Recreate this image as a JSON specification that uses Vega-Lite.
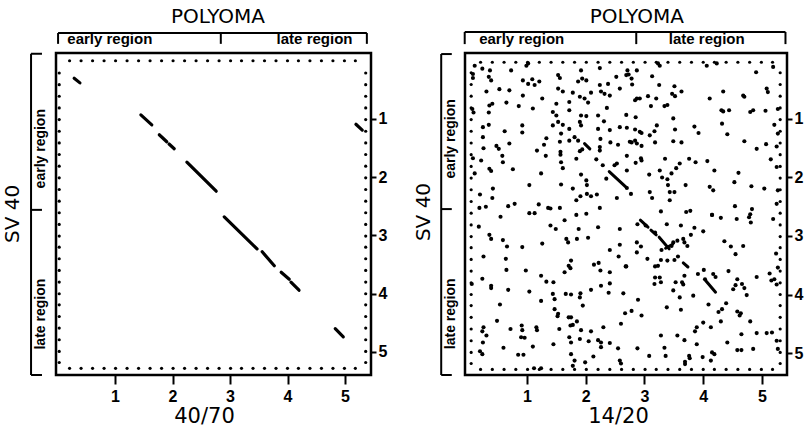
{
  "$schema": "https://vega.github.io/schema/vega-lite/v6.json",
  "padding": {"left": 1, "top": 5, "right": 0, "bottom": 0},
  "background": "white",
  "bounds": "flush",
  "spacing": 94,
  "config": {
    "view": {"stroke": "black", "strokeWidth": 2.5},
    "axis": {"domain": false, "grid": false, "labelFont": "Liberation Sans", "labelFontSize": 16, "labelFontWeight": "bold", "labelColor": "black", "tickColor": "black", "tickWidth": 2, "titleFont": "DejaVu Sans", "titleFontSize": 21, "titleFontWeight": "normal", "titleColor": "black"},
    "text": {"font": "DejaVu Sans", "color": "black"}
  },
  "datasets": {
    "grid": [{"v":0.21},{"v":0.41},{"v":0.61},{"v":0.81},{"v":1.01},{"v":1.21},{"v":1.41},{"v":1.61},{"v":1.81},{"v":2.01},{"v":2.21},{"v":2.41},{"v":2.61},{"v":2.81},{"v":3.01},{"v":3.2},{"v":3.4},{"v":3.6},{"v":3.8},{"v":4.0},{"v":4.19},{"v":4.39},{"v":4.59},{"v":4.79},{"v":4.99},{"v":5.18}],
    "notes": [
      {"panel":"L","kind":"head","text":"POLYOMA","x":2.79,"y":-0.75},
      {"panel":"L","kind":"axis","text":"SV 40","x":-0.77,"y":2.63},
      {"panel":"L","kind":"region","text":"early region","x":0.91,"y":-0.37},
      {"panel":"L","kind":"region","text":"late region","x":4.47,"y":-0.37},
      {"panel":"L","kind":"side","text":"early region","x":-0.28,"y":1.51},
      {"panel":"L","kind":"side","text":"late region","x":-0.28,"y":4.35},
      {"panel":"R","kind":"head","text":"POLYOMA","x":2.87,"y":-0.74},
      {"panel":"R","kind":"axis","text":"SV 40","x":-0.75,"y":2.59},
      {"panel":"R","kind":"region","text":"early region","x":0.91,"y":-0.37},
      {"panel":"R","kind":"region","text":"late region","x":4.06,"y":-0.37},
      {"panel":"R","kind":"side","text":"early region","x":-0.29,"y":1.34},
      {"panel":"R","kind":"side","text":"late region","x":-0.29,"y":4.33}
    ],
    "brackets": [
      {"panel":"L","x":0.01,"y":-0.476,"x2":5.38,"y2":-0.476},
      {"panel":"L","x":0.01,"y":-0.476,"x2":0.01,"y2":-0.29},
      {"panel":"L","x":2.84,"y":-0.476,"x2":2.84,"y2":-0.29},
      {"panel":"L","x":5.38,"y":-0.476,"x2":5.38,"y2":-0.29},
      {"panel":"L","x":-0.46,"y":-0.12,"x2":-0.46,"y2":5.395},
      {"panel":"L","x":-0.46,"y":-0.12,"x2":-0.27,"y2":-0.12},
      {"panel":"L","x":-0.46,"y":2.56,"x2":-0.27,"y2":2.56},
      {"panel":"L","x":-0.46,"y":5.395,"x2":-0.27,"y2":5.395},
      {"panel":"R","x":-0.06,"y":-0.487,"x2":5.4,"y2":-0.487},
      {"panel":"R","x":-0.06,"y":-0.487,"x2":-0.06,"y2":-0.28},
      {"panel":"R","x":2.86,"y":-0.487,"x2":2.86,"y2":-0.28},
      {"panel":"R","x":5.4,"y":-0.487,"x2":5.4,"y2":-0.28},
      {"panel":"R","x":-0.46,"y":-0.11,"x2":-0.46,"y2":5.376},
      {"panel":"R","x":-0.46,"y":-0.11,"x2":-0.28,"y2":-0.11},
      {"panel":"R","x":-0.46,"y":2.54,"x2":-0.28,"y2":2.54},
      {"panel":"R","x":-0.46,"y":5.376,"x2":-0.28,"y2":5.376}
    ],
    "segL": [
      {"x":0.29,"y":0.3,"x2":0.39,"y2":0.38},
      {"x":1.45,"y":0.93,"x2":1.64,"y2":1.1},
      {"x":1.77,"y":1.27,"x2":1.9,"y2":1.39},
      {"x":1.94,"y":1.43,"x2":2.03,"y2":1.51},
      {"x":2.25,"y":1.74,"x2":2.76,"y2":2.24},
      {"x":2.9,"y":2.68,"x2":3.47,"y2":3.23},
      {"x":3.56,"y":3.28,"x2":3.77,"y2":3.52},
      {"x":3.89,"y":3.63,"x2":4.03,"y2":3.75},
      {"x":4.06,"y":3.8,"x2":4.2,"y2":3.94},
      {"x":5.19,"y":1.09,"x2":5.3,"y2":1.19},
      {"x":4.83,"y":4.6,"x2":4.97,"y2":4.74}
    ],
    "segR": [
      {"x":1.98,"y":1.42,"x2":2.07,"y2":1.51},
      {"x":2.4,"y":1.9,"x2":2.69,"y2":2.17},
      {"x":2.93,"y":2.73,"x2":3.06,"y2":2.85},
      {"x":3.11,"y":2.9,"x2":3.2,"y2":2.98},
      {"x":3.25,"y":3.02,"x2":3.42,"y2":3.22},
      {"x":3.36,"y":3.21,"x2":3.48,"y2":3.14},
      {"x":3.66,"y":3.46,"x2":3.74,"y2":3.53},
      {"x":4.04,"y":3.76,"x2":4.21,"y2":3.96}
    ],
    "dotsR": [
      {"x":0.11,"y":0.09},{"x":0.24,"y":0.14},{"x":0.37,"y":0.17},{"x":0.08,"y":0.23},{"x":0.08,"y":0.3},{"x":0.35,"y":0.28},{"x":0.39,"y":0.34},{"x":0.73,"y":0.17},{"x":0.99,"y":0.09},{"x":1.02,"y":0.05},{"x":1.53,"y":0.25},{"x":1.56,"y":0.3},{"x":1.92,"y":0.17},{"x":1.94,"y":0.31},{"x":2.24,"y":0.13},{"x":2.52,"y":0.28},{"x":2.69,"y":0.25},{"x":0.93,"y":0.34},{"x":1.02,"y":0.4},{"x":1.09,"y":0.32},{"x":1.13,"y":0.42},{"x":1.21,"y":0.36},{"x":1.87,"y":0.36},{"x":2.01,"y":0.34},{"x":2.24,"y":0.42},{"x":2.38,"y":0.4},{"x":2.58,"y":0.48},{"x":0.31,"y":0.53},{"x":0.53,"y":0.49},{"x":0.7,"y":0.51},{"x":0.93,"y":0.6},{"x":1.26,"y":0.65},{"x":1.53,"y":0.48},{"x":1.61,"y":0.53},{"x":1.78,"y":0.55},{"x":1.9,"y":0.62},{"x":1.98,"y":0.65},{"x":2.04,"y":0.72},{"x":2.09,"y":0.55},{"x":2.26,"y":0.53},{"x":2.32,"y":0.57},{"x":2.41,"y":0.6},{"x":2.36,"y":0.81},{"x":0.07,"y":0.83},{"x":0.09,"y":0.89},{"x":0.41,"y":0.74},{"x":0.36,"y":0.77},{"x":0.35,"y":0.89},{"x":0.65,"y":0.72},{"x":0.86,"y":0.78},{"x":1.1,"y":0.82},{"x":1.5,"y":0.74},{"x":1.72,"y":0.71},{"x":1.72,"y":0.85},{"x":1.44,"y":0.88},{"x":1.5,"y":0.94},{"x":1.92,"y":0.94},{"x":2.01,"y":0.95},{"x":2.21,"y":0.94},{"x":2.69,"y":0.93},{"x":0.25,"y":1.14},{"x":0.35,"y":1.1},{"x":0.62,"y":1.21},{"x":0.92,"y":1.11},{"x":0.92,"y":1.23},{"x":1.44,"y":1.11},{"x":1.53,"y":1.05},{"x":1.61,"y":1.1},{"x":1.72,"y":1.17},{"x":1.9,"y":1.05},{"x":1.92,"y":1.11},{"x":2.21,"y":1.17},{"x":2.31,"y":1.04},{"x":2.41,"y":1.19},{"x":2.58,"y":1.14},{"x":0.25,"y":1.31},{"x":0.26,"y":1.5},{"x":0.48,"y":1.46},{"x":0.52,"y":1.51},{"x":0.7,"y":1.42},{"x":1.17,"y":1.54},{"x":1.29,"y":1.44},{"x":1.33,"y":1.33},{"x":1.56,"y":1.39},{"x":1.58,"y":1.25},{"x":1.72,"y":1.37},{"x":1.81,"y":1.31},{"x":1.87,"y":1.37},{"x":1.9,"y":1.55},{"x":1.94,"y":1.52},{"x":2.24,"y":1.48},{"x":2.24,"y":1.54},{"x":2.25,"y":1.34},{"x":2.42,"y":1.4},{"x":2.55,"y":1.44},{"x":0.08,"y":1.67},{"x":0.22,"y":1.71},{"x":0.58,"y":1.63},{"x":0.59,"y":1.74},{"x":0.76,"y":1.86},{"x":1.32,"y":1.63},{"x":1.57,"y":1.56},{"x":1.57,"y":1.61},{"x":1.58,"y":1.74},{"x":1.61,"y":1.84},{"x":1.84,"y":1.68},{"x":2.18,"y":1.69},{"x":2.29,"y":1.79},{"x":2.49,"y":1.79},{"x":2.53,"y":1.76},{"x":0.36,"y":1.85},{"x":0.39,"y":1.89},{"x":0.11,"y":1.93},{"x":1.04,"y":2.13},{"x":1.24,"y":1.93},{"x":1.58,"y":2.12},{"x":1.78,"y":2.19},{"x":1.92,"y":1.95},{"x":2.01,"y":2.05},{"x":2.02,"y":2.13},{"x":2.02,"y":2.28},{"x":2.09,"y":2.32},{"x":2.19,"y":2.29},{"x":2.35,"y":2.02},{"x":2.53,"y":2.35},{"x":0.2,"y":2.29},{"x":0.42,"y":2.19},{"x":0.41,"y":2.35},{"x":0.68,"y":2.49},{"x":0.79,"y":2.45},{"x":1.2,"y":2.46},{"x":1.36,"y":2.52},{"x":1.4,"y":2.53},{"x":1.56,"y":2.52},{"x":1.84,"y":2.39},{"x":1.91,"y":2.32},{"x":2.24,"y":2.52},{"x":0.19,"y":2.52},{"x":0.3,"y":2.5},{"x":1.04,"y":2.61},{"x":1.13,"y":2.61},{"x":1.84,"y":2.64},{"x":2.01,"y":2.62},
      {"x":2.71,"y":0.17},{"x":2.73,"y":0.24},{"x":2.87,"y":0.17},{"x":2.78,"y":0.31},{"x":2.79,"y":0.41},{"x":3.13,"y":0.27},{"x":3.23,"y":0.05},{"x":3.26,"y":0.09},{"x":4.06,"y":0.09},{"x":4.23,"y":0.05},{"x":4.9,"y":0.2},{"x":5.19,"y":0.11},{"x":2.87,"y":0.65},{"x":2.92,"y":0.65},{"x":2.84,"y":0.68},{"x":3.06,"y":0.61},{"x":3.2,"y":0.65},{"x":3.11,"y":0.78},{"x":3.25,"y":0.42},{"x":3.51,"y":0.44},{"x":3.47,"y":0.57},{"x":3.52,"y":0.61},{"x":3.63,"y":0.53},{"x":3.34,"y":0.78},{"x":3.39,"y":0.76},{"x":4.11,"y":0.65},{"x":4.34,"y":0.53},{"x":4.68,"y":0.6},{"x":4.7,"y":0.62},{"x":5.08,"y":0.48},{"x":5.1,"y":0.54},{"x":2.85,"y":0.97},{"x":3.49,"y":0.99},{"x":4.31,"y":0.85},{"x":4.34,"y":0.87},{"x":4.44,"y":0.85},{"x":4.8,"y":0.88},{"x":4.85,"y":0.85},{"x":5.06,"y":0.86},{"x":5.27,"y":0.83},{"x":2.7,"y":1.15},{"x":2.84,"y":1.18},{"x":2.92,"y":1.22},{"x":2.95,"y":1.24},{"x":3.09,"y":1.28},{"x":3.17,"y":1.21},{"x":3.21,"y":1.11},{"x":3.52,"y":1.18},{"x":3.85,"y":1.13},{"x":3.92,"y":1.24},{"x":4.32,"y":1.08},{"x":4.41,"y":1.26},{"x":5.21,"y":1.1},{"x":5.27,"y":1.25},{"x":2.75,"y":1.39},{"x":2.78,"y":1.4},{"x":2.84,"y":1.37},{"x":2.87,"y":1.42},{"x":2.95,"y":1.46},{"x":3.18,"y":1.4},{"x":3.49,"y":1.38},{"x":3.63,"y":1.4},{"x":4.7,"y":1.38},{"x":4.91,"y":1.51},{"x":5.07,"y":1.43},{"x":5.25,"y":1.47},{"x":2.7,"y":1.63},{"x":2.85,"y":1.75},{"x":2.94,"y":1.67},{"x":2.95,"y":1.71},{"x":3.35,"y":1.68},{"x":3.76,"y":1.68},{"x":3.87,"y":1.74},{"x":4.07,"y":1.72},{"x":4.19,"y":1.88},{"x":5.15,"y":1.69},{"x":2.7,"y":1.88},{"x":3.08,"y":1.95},{"x":3.26,"y":1.88},{"x":3.3,"y":2.0},{"x":3.39,"y":2.03},{"x":3.46,"y":1.93},{"x":3.54,"y":1.84},{"x":3.6,"y":1.76},{"x":4.6,"y":1.92},{"x":4.53,"y":2.08},{"x":5.25,"y":1.82},{"x":2.7,"y":2.18},{"x":2.77,"y":2.28},{"x":3.4,"y":2.13},{"x":3.43,"y":2.25},{"x":3.51,"y":2.25},{"x":3.7,"y":2.13},{"x":4.11,"y":2.16},{"x":4.17,"y":2.22},{"x":4.82,"y":2.15},{"x":5.04,"y":2.19},{"x":5.27,"y":2.22},{"x":3.09,"y":2.25},{"x":3.13,"y":2.35},{"x":3.43,"y":2.39},{"x":3.28,"y":2.58},{"x":3.71,"y":2.59},{"x":3.78,"y":2.57},{"x":4.15,"y":2.64},{"x":4.54,"y":2.49},{"x":4.83,"y":2.54},{"x":4.8,"y":2.63},{"x":5.25,"y":2.45},
      {"x":0.18,"y":2.84},{"x":0.55,"y":2.67},{"x":0.36,"y":2.98},{"x":0.39,"y":3.05},{"x":0.59,"y":3.07},{"x":0.66,"y":3.18},{"x":0.92,"y":3.19},{"x":1.26,"y":3.13},{"x":1.4,"y":2.82},{"x":1.49,"y":2.88},{"x":1.64,"y":2.73},{"x":1.67,"y":3.05},{"x":1.7,"y":3.11},{"x":1.85,"y":3.05},{"x":1.88,"y":2.88},{"x":2.04,"y":3.03},{"x":2.21,"y":2.85},{"x":2.58,"y":2.88},{"x":0.26,"y":3.35},{"x":0.64,"y":3.39},{"x":0.65,"y":3.58},{"x":0.98,"y":3.59},{"x":1.24,"y":3.68},{"x":1.33,"y":3.78},{"x":1.45,"y":3.79},{"x":1.64,"y":3.62},{"x":1.71,"y":3.51},{"x":1.74,"y":3.55},{"x":1.75,"y":3.42},{"x":2.14,"y":3.49},{"x":2.22,"y":3.46},{"x":2.25,"y":3.59},{"x":2.41,"y":3.24},{"x":2.41,"y":3.62},{"x":2.56,"y":3.35},{"x":2.58,"y":3.15},{"x":2.68,"y":3.52},{"x":0.24,"y":3.73},{"x":0.06,"y":3.82},{"x":0.39,"y":3.85},{"x":0.39,"y":3.89},{"x":0.68,"y":3.92},{"x":1.04,"y":3.95},{"x":1.24,"y":4.11},{"x":1.44,"y":3.99},{"x":1.47,"y":4.08},{"x":1.66,"y":3.99},{"x":1.75,"y":4.0},{"x":1.91,"y":3.98},{"x":1.9,"y":4.05},{"x":2.09,"y":3.92},{"x":2.26,"y":3.85},{"x":2.39,"y":3.97},{"x":2.41,"y":3.81},{"x":2.64,"y":3.98},{"x":0.54,"y":4.17},{"x":1.47,"y":4.25},{"x":1.53,"y":4.33},{"x":1.52,"y":4.37},{"x":1.71,"y":4.39},{"x":1.75,"y":4.39},{"x":1.85,"y":4.46},{"x":1.95,"y":4.19},{"x":2.67,"y":4.32},{"x":0.49,"y":4.45},{"x":0.26,"y":4.56},{"x":0.24,"y":4.63},{"x":0.31,"y":4.7},{"x":0.72,"y":4.59},{"x":0.91,"y":4.53},{"x":0.92,"y":4.61},{"x":1.16,"y":4.56},{"x":1.17,"y":4.61},{"x":0.9,"y":4.73},{"x":0.96,"y":4.74},{"x":1.55,"y":4.59},{"x":1.74,"y":4.53},{"x":1.78,"y":4.52},{"x":1.92,"y":4.61},{"x":2.09,"y":4.63},{"x":2.3,"y":4.56},{"x":2.6,"y":4.5},{"x":0.25,"y":4.82},{"x":0.6,"y":4.91},{"x":1.1,"y":4.89},{"x":1.45,"y":4.85},{"x":1.72,"y":4.73},{"x":1.75,"y":4.82},{"x":1.9,"y":4.76},{"x":2.05,"y":4.8},{"x":2.21,"y":4.78},{"x":2.26,"y":4.82},{"x":2.26,"y":4.9},{"x":2.41,"y":4.83},{"x":2.55,"y":4.92},{"x":0.2,"y":4.97},{"x":0.24,"y":5.02},{"x":0.85,"y":5.03},{"x":0.94,"y":5.03},{"x":1.75,"y":5.02},{"x":1.81,"y":5.13},{"x":1.99,"y":5.16},{"x":2.13,"y":5.06},{"x":2.58,"y":5.13},{"x":2.6,"y":5.18},{"x":1.12,"y":5.26},{"x":1.24,"y":5.26},{"x":1.78,"y":5.22},
      {"x":2.88,"y":2.8},{"x":3.02,"y":2.82},{"x":3.18,"y":2.94},{"x":3.38,"y":2.8},{"x":3.62,"y":2.82},{"x":3.85,"y":2.86},{"x":4.0,"y":2.92},{"x":4.15,"y":2.64},{"x":4.3,"y":2.69},{"x":4.57,"y":2.71},{"x":4.78,"y":2.68},{"x":4.81,"y":2.77},{"x":5.19,"y":2.71},{"x":2.87,"y":3.11},{"x":2.94,"y":3.18},{"x":2.87,"y":3.28},{"x":3.29,"y":3.24},{"x":3.49,"y":3.11},{"x":3.46,"y":3.17},{"x":3.56,"y":3.08},{"x":3.66,"y":3.05},{"x":3.68,"y":3.11},{"x":3.73,"y":3.17},{"x":3.79,"y":2.98},{"x":4.36,"y":3.09},{"x":4.47,"y":3.18},{"x":4.68,"y":3.17},{"x":4.55,"y":3.31},{"x":5.24,"y":3.3},{"x":3.05,"y":3.39},{"x":3.23,"y":3.51},{"x":3.18,"y":3.52},{"x":3.28,"y":3.41},{"x":3.39,"y":3.42},{"x":3.51,"y":3.41},{"x":3.57,"y":3.35},{"x":2.69,"y":3.52},{"x":5.27,"y":3.54},{"x":3.18,"y":3.71},{"x":3.26,"y":3.71},{"x":3.28,"y":3.79},{"x":3.17,"y":3.82},{"x":3.53,"y":3.79},{"x":3.64,"y":3.79},{"x":3.66,"y":3.83},{"x":3.68,"y":3.68},{"x":3.91,"y":3.65},{"x":4.01,"y":3.58},{"x":4.03,"y":3.74},{"x":4.17,"y":3.65},{"x":4.21,"y":3.7},{"x":4.43,"y":3.6},{"x":4.58,"y":3.74},{"x":4.55,"y":3.84},{"x":4.51,"y":3.91},{"x":4.66,"y":3.82},{"x":4.7,"y":3.89},{"x":4.74,"y":4.01},{"x":4.91,"y":3.7},{"x":5.13,"y":3.64},{"x":5.21,"y":3.74},{"x":5.16,"y":3.76},{"x":5.25,"y":3.83},{"x":3.49,"y":3.93},{"x":3.6,"y":4.05},{"x":3.83,"y":4.02},{"x":2.89,"y":4.09},{"x":2.78,"y":4.28},{"x":2.95,"y":4.36},{"x":3.38,"y":4.22},{"x":3.62,"y":4.26},{"x":4.09,"y":4.17},{"x":4.26,"y":4.3},{"x":4.32,"y":4.25},{"x":4.39,"y":4.15},{"x":4.3,"y":4.46},{"x":4.58,"y":4.29},{"x":4.64,"y":4.32},{"x":4.62,"y":4.36},{"x":4.8,"y":4.46},{"x":3.28,"y":4.7},{"x":3.56,"y":4.7},{"x":3.68,"y":4.78},{"x":3.86,"y":4.63},{"x":3.89,"y":4.56},{"x":4.0,"y":4.48},{"x":4.13,"y":4.56},{"x":3.89,"y":4.85},{"x":4.41,"y":4.82},{"x":4.65,"y":4.68},{"x":4.91,"y":4.66},{"x":5.08,"y":4.66},{"x":5.17,"y":4.65},{"x":5.25,"y":4.79},{"x":2.88,"y":4.92},{"x":3.08,"y":5.05},{"x":3.34,"y":4.91},{"x":3.36,"y":5.05},{"x":3.76,"y":5.05},{"x":3.77,"y":5.09},{"x":3.69,"y":5.15},{"x":3.69,"y":5.19},{"x":3.99,"y":5.07},{"x":4.15,"y":4.99},{"x":4.19,"y":5.02},{"x":4.13,"y":5.13},{"x":4.58,"y":4.95},{"x":4.65,"y":4.95},{"x":4.85,"y":4.93},{"x":5.27,"y":4.93}
    ]
  },
  "hconcat": [
    {
      "width": 315,
      "height": 322,
      "encoding": {
        "x": {"type": "quantitative", "scale": {"domain": [-0.026, 5.452], "nice": false, "zero": false}, "axis": {"orient": "bottom", "values": [1,2,3,4,5], "tickSize": 9, "labelPadding": 4, "title": "40/70", "titlePadding": 1, "titleX": 148}},
        "y": {"type": "quantitative", "scale": {"domain": [-0.133, 5.395], "reverse": true, "nice": false, "zero": false}, "axis": {"orient": "right", "values": [1,2,3,4,5], "tickSize": 5, "labelPadding": 2, "title": null}}
      },
      "layer": [
        {"data": {"name": "grid"}, "mark": {"type": "circle", "size": 10, "color": "black", "opacity": 1}, "encoding": {"x": {"field": "v"}, "y": {"datum": 0}}},
        {"data": {"name": "grid"}, "mark": {"type": "circle", "size": 10, "color": "black", "opacity": 1}, "encoding": {"x": {"field": "v"}, "y": {"datum": 5.28}}},
        {"data": {"name": "grid"}, "mark": {"type": "circle", "size": 10, "color": "black", "opacity": 1}, "encoding": {"x": {"datum": 0.03}, "y": {"field": "v"}}},
        {"data": {"name": "grid"}, "mark": {"type": "circle", "size": 10, "color": "black", "opacity": 1}, "encoding": {"x": {"datum": 5.36}, "y": {"field": "v"}}},
        {"data": {"name": "segL"}, "mark": {"type": "rule", "color": "black", "strokeWidth": 3.2, "strokeCap": "round"}, "encoding": {"x": {"field": "x"}, "y": {"field": "y"}, "x2": {"field": "x2"}, "y2": {"field": "y2"}}},
        {"data": {"name": "brackets"}, "transform": [{"filter": "datum.panel === 'L'"}], "mark": {"type": "rule", "color": "black", "strokeWidth": 2}, "encoding": {"x": {"field": "x"}, "y": {"field": "y"}, "x2": {"field": "x2"}, "y2": {"field": "y2"}}},
        {"data": {"name": "notes"}, "transform": [{"filter": "datum.panel === 'L' && datum.kind === 'head'"}], "mark": {"type": "text", "fontSize": 20, "align": "center", "baseline": "middle"}, "encoding": {"x": {"field": "x"}, "y": {"field": "y"}, "text": {"field": "text"}}},
        {"data": {"name": "notes"}, "transform": [{"filter": "datum.panel === 'L' && datum.kind === 'region'"}], "mark": {"type": "text", "font": "Liberation Sans", "fontSize": 15, "fontWeight": "bold", "align": "center", "baseline": "middle"}, "encoding": {"x": {"field": "x"}, "y": {"field": "y"}, "text": {"field": "text"}}},
        {"data": {"name": "notes"}, "transform": [{"filter": "datum.panel === 'L' && datum.kind === 'axis'"}], "mark": {"type": "text", "fontSize": 20, "angle": 270, "align": "center", "baseline": "middle"}, "encoding": {"x": {"field": "x"}, "y": {"field": "y"}, "text": {"field": "text"}}},
        {"data": {"name": "notes"}, "transform": [{"filter": "datum.panel === 'L' && datum.kind === 'side'"}], "mark": {"type": "text", "font": "Liberation Sans", "fontSize": 14, "fontWeight": "bold", "angle": 270, "align": "center", "baseline": "middle"}, "encoding": {"x": {"field": "x"}, "y": {"field": "y"}, "text": {"field": "text"}}}
      ]
    },
    {
      "width": 322,
      "height": 322,
      "encoding": {
        "x": {"type": "quantitative", "scale": {"domain": [-0.055, 5.426], "nice": false, "zero": false}, "axis": {"orient": "bottom", "values": [1,2,3,4,5], "tickSize": 9, "labelPadding": 4, "title": "14/20", "titlePadding": 1, "titleX": 153}},
        "y": {"type": "quantitative", "scale": {"domain": [-0.128, 5.376], "reverse": true, "nice": false, "zero": false}, "axis": {"orient": "right", "values": [1,2,3,4,5], "tickSize": 5, "labelPadding": 2, "title": null}}
      },
      "layer": [
        {"data": {"name": "grid"}, "mark": {"type": "circle", "size": 10, "color": "black", "opacity": 1}, "encoding": {"x": {"field": "v"}, "y": {"datum": 0.03}}},
        {"data": {"name": "grid"}, "mark": {"type": "circle", "size": 10, "color": "black", "opacity": 1}, "encoding": {"x": {"field": "v"}, "y": {"datum": 5.28}}},
        {"data": {"name": "grid"}, "mark": {"type": "circle", "size": 10, "color": "black", "opacity": 1}, "encoding": {"x": {"datum": 0.05}, "y": {"field": "v"}}},
        {"data": {"name": "grid"}, "mark": {"type": "circle", "size": 10, "color": "black", "opacity": 1}, "encoding": {"x": {"datum": 5.31}, "y": {"field": "v"}}},
        {"data": {"name": "dotsR"}, "mark": {"type": "circle", "size": 17, "color": "black", "opacity": 1}, "encoding": {"x": {"field": "x"}, "y": {"field": "y"}}},
        {"data": {"name": "segR"}, "mark": {"type": "rule", "color": "black", "strokeWidth": 3, "strokeCap": "round"}, "encoding": {"x": {"field": "x"}, "y": {"field": "y"}, "x2": {"field": "x2"}, "y2": {"field": "y2"}}},
        {"data": {"name": "brackets"}, "transform": [{"filter": "datum.panel === 'R'"}], "mark": {"type": "rule", "color": "black", "strokeWidth": 2}, "encoding": {"x": {"field": "x"}, "y": {"field": "y"}, "x2": {"field": "x2"}, "y2": {"field": "y2"}}},
        {"data": {"name": "notes"}, "transform": [{"filter": "datum.panel === 'R' && datum.kind === 'head'"}], "mark": {"type": "text", "fontSize": 20, "align": "center", "baseline": "middle"}, "encoding": {"x": {"field": "x"}, "y": {"field": "y"}, "text": {"field": "text"}}},
        {"data": {"name": "notes"}, "transform": [{"filter": "datum.panel === 'R' && datum.kind === 'region'"}], "mark": {"type": "text", "font": "Liberation Sans", "fontSize": 15, "fontWeight": "bold", "align": "center", "baseline": "middle"}, "encoding": {"x": {"field": "x"}, "y": {"field": "y"}, "text": {"field": "text"}}},
        {"data": {"name": "notes"}, "transform": [{"filter": "datum.panel === 'R' && datum.kind === 'axis'"}], "mark": {"type": "text", "fontSize": 20, "angle": 270, "align": "center", "baseline": "middle"}, "encoding": {"x": {"field": "x"}, "y": {"field": "y"}, "text": {"field": "text"}}},
        {"data": {"name": "notes"}, "transform": [{"filter": "datum.panel === 'R' && datum.kind === 'side'"}], "mark": {"type": "text", "font": "Liberation Sans", "fontSize": 14, "fontWeight": "bold", "angle": 270, "align": "center", "baseline": "middle"}, "encoding": {"x": {"field": "x"}, "y": {"field": "y"}, "text": {"field": "text"}}}
      ]
    }
  ]
}
